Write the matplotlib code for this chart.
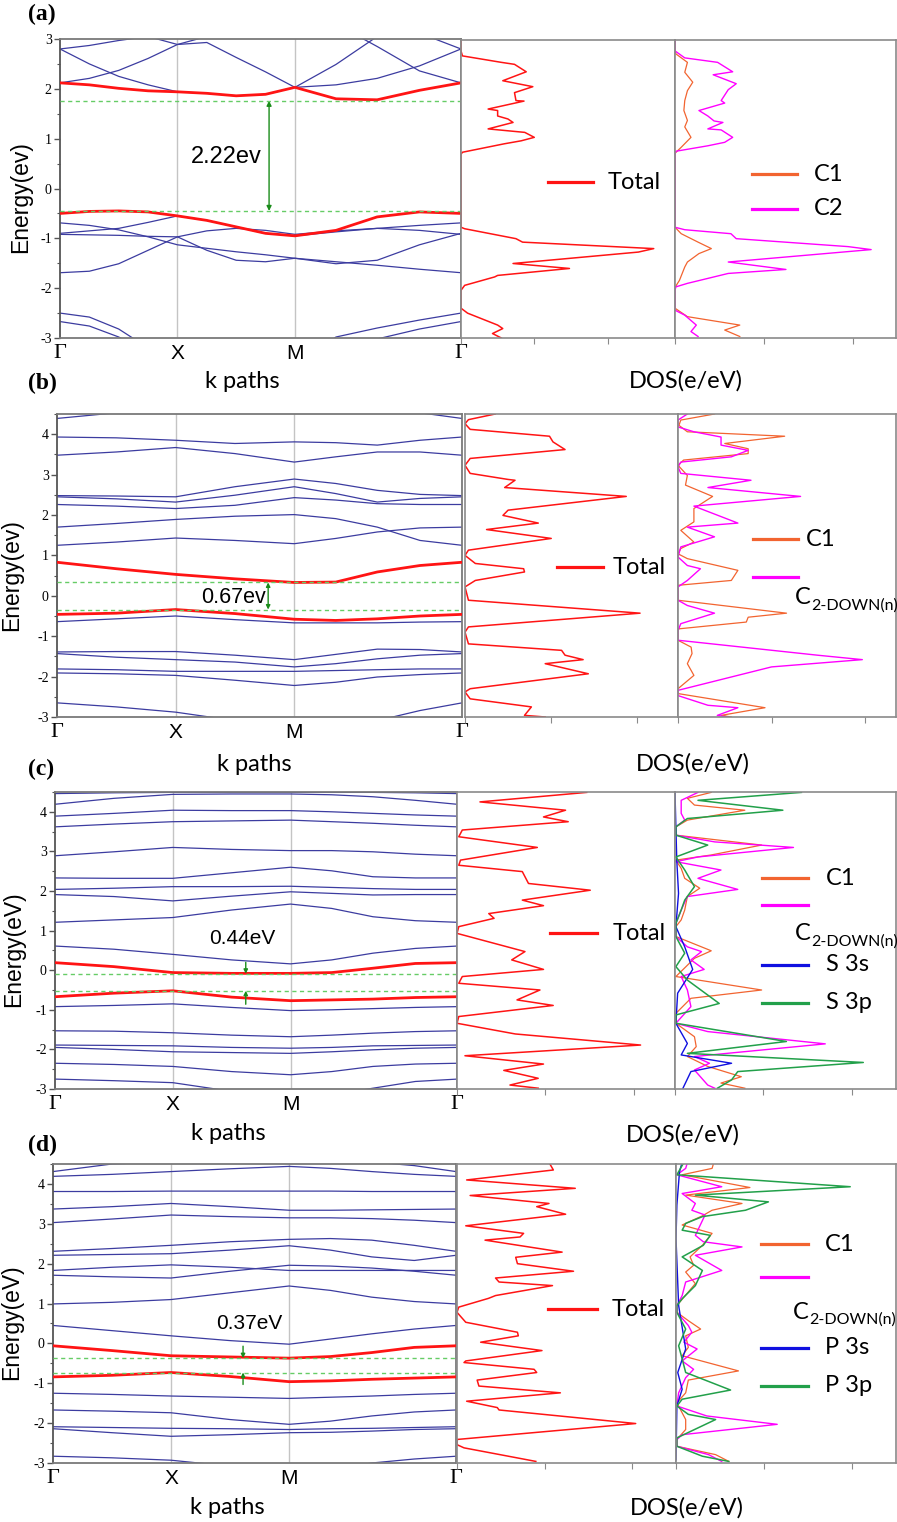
import numpy as np
import matplotlib
matplotlib.use("Agg")
import matplotlib.pyplot as plt

W, H = 897, 1522
SANS = ["Lato", "DejaVu Sans"]
ARIAL = ["Liberation Sans", "DejaVu Sans"]
SERIF = ["Liberation Serif", "DejaVu Serif"]
BLUE = "#3c3ca0"
RED = "#ff1414"
ORANGE = "#f26430"
MAGENTA = "#ff00ff"
SBLUE = "#1010e0"
GREEN = "#22a04a"

# high-symmetry path G-X-M-G (G-X = X-M = 1, M-G = sqrt 2)
k_sym = [0.0, 1.0, 2.0, 3.414]
k_sym_labels = ["Γ", "X", "M", "Γ"]

k_fine = [0, 0.25, 0.5, 0.75, 1.0, 1.25, 1.5, 1.75, 2.0, 2.35, 2.7, 3.06, 3.414]
k_coarse = [0, 0.5, 1.0, 1.5, 2.0, 2.35, 2.7, 3.06, 3.414]

# ---------------- panel (a) bands ----------------
a_red = [
    [2.12, 2.08, 2.01, 1.96, 1.94, 1.91, 1.86, 1.89, 2.03, 1.80, 1.78, 1.97, 2.12],
    [-0.50, -0.46, -0.45, -0.47, -0.55, -0.64, -0.77, -0.90, -0.95, -0.84, -0.57, -0.47, -0.50],
]
a_blue = [
    [2.80, 2.50, 2.25, 2.08, 1.94, 1.91, 1.86, 1.89, 2.03, 2.08, 2.21, 2.46, 2.80],
    [2.12, 2.21, 2.37, 2.61, 2.89, 3.05, 3.30, 3.50, 3.60, 3.30, 2.85, 2.36, 2.12],
    [2.80, 2.87, 2.97, 3.05, 2.89, 2.93, 2.63, 2.34, 2.03, 2.49, 3.05, 3.12, 2.80],
    [-0.69, -0.74, -0.83, -0.97, -1.13, -1.20, -1.27, -1.33, -1.40, -1.47, -1.54, -1.62, -1.69],
    [-0.90, -0.85, -0.80, -0.68, -0.55, -0.64, -0.77, -0.90, -0.95, -0.87, -0.80, -0.74, -0.69],
    [-0.92, -0.93, -0.94, -0.96, -0.97, -0.85, -0.80, -0.84, -0.92, -0.85, -0.80, -0.84, -0.92],
    [-1.69, -1.66, -1.51, -1.24, -0.97, -1.24, -1.44, -1.47, -1.40, -1.51, -1.44, -1.13, -0.90],
    [-2.50, -2.58, -2.82, -3.20, -3.50, -3.70, -3.80, -3.70, -3.50, -2.98, -2.80, -2.64, -2.50],
    [-2.67, -2.76, -2.98, -3.30, -3.60, -3.80, -3.90, -3.80, -3.60, -3.30, -3.02, -2.82, -2.67],
]

# ---------------- panel (b) bands ----------------
b_red = [
    [0.83, 0.67, 0.53, 0.42, 0.33, 0.34, 0.59, 0.75, 0.83],
    [-0.46, -0.43, -0.34, -0.44, -0.58, -0.61, -0.57, -0.50, -0.46],
]
b_blue = [
    [-0.64, -0.57, -0.50, -0.59, -0.67, -0.67, -0.67, -0.65, -0.64],
    [1.25, 1.33, 1.43, 1.37, 1.29, 1.42, 1.58, 1.68, 1.70],
    [1.70, 1.79, 1.89, 1.97, 2.01, 1.91, 1.70, 1.37, 1.25],
    [2.48, 2.47, 2.45, 2.70, 2.89, 2.78, 2.61, 2.51, 2.48],
    [2.45, 2.40, 2.32, 2.49, 2.70, 2.53, 2.32, 2.41, 2.45],
    [2.26, 2.22, 2.16, 2.24, 2.43, 2.37, 2.28, 2.26, 2.26],
    [3.48, 3.56, 3.67, 3.52, 3.31, 3.44, 3.56, 3.56, 3.48],
    [3.93, 3.91, 3.85, 3.77, 3.81, 3.79, 3.73, 3.85, 3.93],
    [4.39, 4.53, 4.59, 4.62, 4.62, 4.62, 4.59, 4.53, 4.39],
    [-1.39, -1.38, -1.38, -1.47, -1.58, -1.45, -1.32, -1.33, -1.39],
    [-1.43, -1.52, -1.58, -1.64, -1.76, -1.68, -1.56, -1.47, -1.43],
    [-1.81, -1.83, -1.87, -1.87, -1.87, -1.85, -1.83, -1.81, -1.81],
    [-1.91, -1.93, -1.97, -2.09, -2.22, -2.14, -2.01, -1.95, -1.91],
    [-2.65, -2.75, -2.88, -3.09, -3.25, -3.25, -3.09, -2.84, -2.65],
]

# ---------------- panel (c) bands ----------------
c_red = [
    [0.19, 0.09, -0.06, -0.08, -0.08, -0.06, 0.05, 0.17, 0.19],
    [-0.67, -0.58, -0.52, -0.68, -0.77, -0.75, -0.73, -0.69, -0.67],
]
c_blue = [
    [0.61, 0.53, 0.40, 0.26, 0.16, 0.26, 0.43, 0.55, 0.61],
    [-0.92, -0.89, -0.85, -0.94, -1.02, -1.00, -0.97, -0.94, -0.92],
    [-1.53, -1.54, -1.58, -1.64, -1.68, -1.64, -1.59, -1.55, -1.53],
    [-1.89, -1.90, -1.91, -1.95, -1.97, -1.95, -1.91, -1.90, -1.89],
    [-1.95, -2.00, -2.06, -2.08, -2.10, -2.06, -2.01, -1.97, -1.95],
    [-2.35, -2.38, -2.43, -2.56, -2.64, -2.56, -2.43, -2.37, -2.35],
    [-2.75, -2.79, -2.84, -3.06, -3.19, -3.15, -2.98, -2.81, -2.75],
    [1.21, 1.27, 1.33, 1.52, 1.67, 1.56, 1.35, 1.25, 1.21],
    [1.91, 1.86, 1.75, 1.87, 1.98, 1.94, 1.90, 1.91, 1.91],
    [2.04, 2.07, 2.11, 2.11, 2.12, 2.09, 2.06, 2.04, 2.04],
    [2.33, 2.32, 2.32, 2.46, 2.60, 2.51, 2.36, 2.33, 2.33],
    [2.89, 2.99, 3.10, 3.05, 3.02, 3.02, 2.99, 2.93, 2.89],
    [3.62, 3.69, 3.75, 3.77, 3.79, 3.75, 3.71, 3.66, 3.62],
    [3.89, 3.96, 4.04, 4.03, 4.03, 4.00, 3.96, 3.92, 3.89],
    [4.19, 4.34, 4.44, 4.45, 4.45, 4.43, 4.38, 4.29, 4.19],
    [4.46, 4.48, 4.49, 4.49, 4.49, 4.49, 4.49, 4.48, 4.46],
]

# ---------------- panel (d) bands ----------------
d_red = [
    [-0.06, -0.18, -0.31, -0.34, -0.37, -0.33, -0.23, -0.10, -0.06],
    [-0.84, -0.80, -0.73, -0.83, -0.96, -0.94, -0.90, -0.87, -0.84],
]
d_blue = [
    [0.45, 0.32, 0.19, 0.07, -0.02, 0.11, 0.24, 0.36, 0.45],
    [-1.25, -1.28, -1.32, -1.35, -1.38, -1.35, -1.32, -1.28, -1.25],
    [-1.67, -1.70, -1.74, -1.91, -2.03, -1.95, -1.82, -1.72, -1.67],
    [-2.09, -2.11, -2.13, -2.14, -2.16, -2.14, -2.13, -2.11, -2.09],
    [-2.14, -2.24, -2.33, -2.29, -2.24, -2.23, -2.20, -2.16, -2.14],
    [-2.83, -2.87, -2.93, -3.08, -3.21, -3.17, -3.00, -2.90, -2.83],
    [0.99, 1.03, 1.10, 1.27, 1.44, 1.33, 1.16, 1.05, 0.99],
    [1.83, 1.91, 1.97, 1.91, 1.83, 1.83, 1.83, 1.83, 1.83],
    [1.71, 1.67, 1.64, 1.81, 1.96, 1.94, 1.89, 1.81, 1.71],
    [2.31, 2.38, 2.46, 2.55, 2.61, 2.63, 2.59, 2.46, 2.31],
    [2.21, 2.23, 2.25, 2.34, 2.45, 2.34, 2.17, 2.08, 2.21],
    [3.03, 3.12, 3.22, 3.18, 3.15, 3.15, 3.13, 3.09, 3.03],
    [3.37, 3.43, 3.51, 3.43, 3.34, 3.34, 3.35, 3.36, 3.37],
    [3.81, 3.81, 3.82, 3.82, 3.82, 3.82, 3.81, 3.81, 3.81],
    [4.19, 4.24, 4.31, 4.38, 4.44, 4.39, 4.31, 4.24, 4.19],
    [4.31, 4.50, 4.56, 4.56, 4.56, 4.56, 4.55, 4.46, 4.31],
]

# band edges (dashed) and gap labels
a_edges, a_gap = [1.76, -0.45], "2.22ev"
b_edges, b_gap = [0.33, -0.34], "0.67ev"
c_edges, c_gap = [-0.09, -0.52], "0.44eV"
d_edges, d_gap = [-0.37, -0.73], "0.37eV"

# ---------------- DOS curves: (DOS value, energy) ----------------
a_total = [(0.00, 3.00), (0.00, 2.78), (0.02, 2.68), (0.55, 2.55), (0.73, 2.51), (0.89, 2.36),
           (0.57, 2.18), (0.98, 2.06), (0.73, 1.94), (0.75, 1.78), (0.86, 1.77), (0.37, 1.61),
           (0.50, 1.58), (0.50, 1.47), (0.64, 1.41), (0.71, 1.34), (0.37, 1.21), (0.87, 1.14),
           (1.00, 1.04), (0.82, 0.97), (0.59, 0.91), (0.02, 0.74), (0.00, 0.70), (0.00, -0.77),
           (0.05, -0.80), (0.75, -1.00), (0.84, -1.07), (2.63, -1.20), (2.42, -1.27), (0.71, -1.50),
           (1.48, -1.60), (0.50, -1.74), (0.46, -1.77), (0.05, -1.94), (0.00, -2.04), (0.00, -2.40),
           (0.09, -2.50), (0.50, -2.74), (0.57, -2.81), (0.43, -2.91), (0.55, -3.00)]
a_c1 = [(0.00, 3.00), (0.00, 2.78), (0.01, 2.72), (0.14, 2.55), (0.11, 2.35), (0.20, 2.15),
        (0.14, 1.98), (0.11, 1.78), (0.10, 1.58), (0.14, 1.38), (0.11, 1.25), (0.18, 1.04),
        (0.07, 0.84), (0.00, 0.72), (0.00, -0.77), (0.07, -0.90), (0.26, -1.07), (0.41, -1.20),
        (0.27, -1.30), (0.14, -1.47), (0.11, -1.57), (0.05, -1.84), (0.00, -1.98), (0.00, -2.40),
        (0.14, -2.57), (0.73, -2.74), (0.56, -2.84), (0.73, -2.97)]
a_c2 = [(0.00, 3.00), (0.00, 2.78), (0.11, 2.64), (0.48, 2.55), (0.65, 2.36), (0.43, 2.30),
        (0.69, 2.12), (0.60, 2.00), (0.52, 1.78), (0.56, 1.73), (0.27, 1.58), (0.37, 1.47),
        (0.44, 1.37), (0.54, 1.34), (0.37, 1.21), (0.52, 1.19), (0.65, 1.04), (0.56, 0.94),
        (0.37, 0.87), (0.01, 0.76), (0.00, 0.70), (0.00, -0.77), (0.11, -0.82), (0.63, -0.90),
        (0.69, -1.00), (1.95, -1.16), (2.21, -1.22), (0.60, -1.47), (1.25, -1.62), (0.60, -1.70),
        (0.14, -1.90), (0.01, -1.97), (0.00, -2.04), (0.00, -2.44), (0.11, -2.54), (0.24, -2.74),
        (0.18, -2.87), (0.26, -2.97)]

b_total = [(0.35, 4.50), (0.04, 4.36), (0.00, 4.26), (0.06, 4.12), (0.98, 3.95), (1.02, 3.81),
           (1.16, 3.62), (0.06, 3.40), (0.00, 3.23), (0.06, 3.03), (0.50, 2.88), (0.58, 2.86),
           (0.46, 2.68), (1.87, 2.46), (0.50, 2.12), (0.44, 1.99), (0.85, 1.80), (0.25, 1.64),
           (1.00, 1.42), (0.04, 1.13), (0.00, 1.00), (0.12, 0.80), (0.68, 0.67), (0.69, 0.59),
           (0.12, 0.38), (0.00, 0.22), (0.04, -0.11), (2.03, -0.43), (0.04, -0.77), (0.00, -0.90),
           (0.04, -1.19), (1.12, -1.35), (1.16, -1.47), (1.37, -1.58), (0.93, -1.68), (1.43, -1.93),
           (0.06, -2.30), (0.00, -2.38), (0.06, -2.55), (0.77, -2.75), (0.69, -2.96), (0.93, -3.00)]
b_c1 = [(0.39, 4.50), (0.03, 4.35), (0.01, 4.22), (0.10, 4.06), (1.14, 3.95), (0.50, 3.77),
        (0.75, 3.64), (0.75, 3.52), (0.06, 3.36), (0.00, 3.23), (0.10, 2.98), (0.08, 2.74),
        (0.37, 2.46), (0.17, 2.16), (0.17, 1.83), (0.03, 1.62), (0.17, 1.33), (0.03, 1.17),
        (0.00, 1.04), (0.10, 0.92), (0.64, 0.63), (0.57, 0.38), (0.00, 0.26), (0.00, -0.11),
        (1.16, -0.43), (0.75, -0.53), (0.73, -0.65), (0.00, -0.82), (0.00, -1.10), (0.14, -1.27),
        (0.15, -1.43), (0.10, -1.68), (0.17, -1.97), (0.00, -2.30), (0.00, -2.42), (0.93, -2.77),
        (0.46, -2.96), (0.57, -3.00)]
b_c2 = [(0.10, 4.50), (0.00, 4.35), (0.00, 4.18), (0.17, 4.06), (0.46, 3.93), (0.46, 3.73),
        (0.75, 3.60), (0.57, 3.44), (0.03, 3.31), (0.00, 3.19), (0.03, 3.03), (0.78, 2.86),
        (0.32, 2.68), (1.31, 2.46), (0.17, 2.22), (0.64, 1.80), (0.10, 1.70), (0.39, 1.46),
        (0.03, 1.21), (0.00, 0.96), (0.10, 0.75), (0.24, 0.67), (0.10, 0.38), (0.00, 0.22),
        (0.00, -0.11), (0.10, -0.24), (0.39, -0.43), (0.03, -0.69), (0.00, -0.86), (0.00, -1.10),
        (1.49, -1.47), (1.97, -1.58), (1.00, -1.76), (0.00, -2.34), (0.00, -2.47), (0.32, -2.71),
        (0.64, -2.77), (0.42, -2.96), (0.53, -3.00)]

c_total = [(1.47, 4.49), (0.26, 4.25), (1.23, 4.04), (0.98, 3.87), (1.26, 3.75), (0.06, 3.54),
           (0.02, 3.37), (0.91, 3.10), (0.04, 2.78), (0.02, 2.65), (0.74, 2.49), (0.81, 2.19),
           (1.51, 2.02), (0.74, 1.77), (0.98, 1.63), (0.36, 1.43), (0.42, 1.31), (0.02, 1.10),
           (0.00, 0.93), (0.77, 0.47), (0.62, 0.26), (0.98, 0.02), (0.06, -0.16), (0.02, -0.33),
           (0.94, -0.50), (0.68, -0.75), (1.09, -0.89), (0.02, -1.17), (0.00, -1.34), (0.66, -1.61),
           (2.08, -1.89), (0.09, -2.16), (0.98, -2.37), (0.53, -2.53), (0.92, -2.73), (0.60, -2.90),
           (0.92, -2.98)]
c_c1 = [(0.41, 4.49), (0.14, 4.34), (0.22, 4.17), (0.79, 4.04), (0.14, 3.79), (0.01, 3.62),
        (0.01, 3.41), (0.98, 3.16), (0.41, 2.91), (0.01, 2.78), (0.07, 2.57), (0.11, 2.32),
        (0.28, 2.07), (0.14, 1.86), (0.11, 1.52), (0.07, 1.27), (0.01, 1.10), (0.01, 0.85),
        (0.41, 0.49), (0.22, 0.30), (0.01, -0.16), (0.98, -0.50), (0.18, -0.71), (0.01, -1.09),
        (0.01, -1.34), (0.22, -1.68), (0.24, -1.93), (0.14, -2.18), (0.37, -2.43), (0.75, -2.69),
        (0.52, -2.85), (0.79, -2.98)]
c_c2 = [(0.26, 4.49), (0.07, 4.29), (0.07, 3.96), (0.11, 3.79), (0.01, 3.62), (0.01, 3.41),
        (0.45, 3.24), (1.34, 3.10), (0.26, 2.86), (0.01, 2.74), (0.52, 2.53), (0.26, 2.32),
        (0.71, 2.04), (0.14, 1.86), (0.07, 1.52), (0.01, 1.18), (0.01, 0.85), (0.14, 0.59),
        (0.30, 0.47), (0.18, 0.26), (0.33, 0.02), (0.07, -0.16), (0.14, -0.50), (0.18, -0.92),
        (0.01, -1.34), (0.37, -1.55), (1.70, -1.86), (0.22, -2.18), (0.39, -2.35), (0.22, -2.52),
        (0.37, -2.90), (0.45, -2.98)]
c_s3s = [(0.00, 4.49), (0.01, 3.62), (0.02, 2.78), (0.04, 1.94), (0.01, 1.10), (0.11, 0.59),
         (0.20, 0.02), (0.03, -0.58), (0.01, -1.34), (0.14, -1.85), (0.07, -2.14), (0.64, -2.35),
         (0.18, -2.56), (0.09, -2.98)]
c_s3p = [(1.43, 4.49), (0.26, 4.29), (1.22, 4.04), (0.14, 3.83), (0.01, 3.62), (0.01, 3.41),
         (0.37, 3.16), (0.01, 2.86), (0.11, 2.53), (0.22, 2.11), (0.11, 1.77), (0.07, 1.52),
         (0.01, 1.18), (0.01, 0.85), (0.11, 0.43), (0.01, 0.09), (0.14, -0.25), (0.50, -0.84),
         (0.01, -1.13), (0.01, -1.34), (1.26, -1.80), (0.14, -2.10), (2.13, -2.33), (0.71, -2.56),
         (0.64, -2.77), (0.48, -2.98)]

d_total = [(1.05, 4.54), (1.10, 4.35), (0.11, 4.10), (1.35, 3.89), (0.15, 3.71), (1.05, 3.51),
           (0.91, 3.43), (1.24, 3.24), (0.10, 2.95), (0.76, 2.76), (0.72, 2.67), (0.32, 2.59),
           (1.20, 2.29), (0.67, 2.16), (0.69, 2.00), (1.33, 1.81), (0.44, 1.64), (0.48, 1.54),
           (1.09, 1.45), (0.44, 1.20), (0.36, 1.13), (0.02, 0.91), (0.00, 0.78), (0.10, 0.53),
           (0.69, 0.28), (0.70, 0.19), (0.27, 0.03), (0.97, -0.18), (0.10, -0.44), (0.08, -0.48),
           (0.88, -0.65), (0.91, -0.73), (0.23, -0.92), (0.25, -1.07), (1.18, -1.24), (0.11, -1.45),
           (0.46, -1.61), (0.48, -1.67), (2.04, -2.01), (0.00, -2.41), (0.00, -2.54), (0.08, -2.62),
           (0.90, -2.96)]
d_c1 = [(0.43, 4.54), (0.41, 4.39), (0.07, 4.23), (0.84, 3.91), (0.11, 3.72), (0.75, 3.51),
        (0.41, 3.34), (0.30, 3.20), (0.07, 2.97), (0.41, 2.76), (0.30, 2.46), (0.16, 2.17),
        (0.20, 1.96), (0.11, 1.79), (0.22, 1.50), (0.14, 1.29), (0.01, 0.95), (0.01, 0.78),
        (0.14, 0.57), (0.28, 0.36), (0.11, 0.19), (0.14, -0.10), (0.07, -0.31), (0.71, -0.69),
        (0.14, -0.92), (0.11, -1.24), (0.01, -1.49), (0.11, -1.91), (0.11, -2.16), (0.01, -2.41),
        (0.01, -2.58), (0.45, -2.79), (0.60, -2.96)]
d_c2 = [(0.13, 4.54), (0.11, 4.39), (0.01, 4.23), (0.52, 3.93), (0.07, 3.76), (0.22, 3.51),
        (0.18, 3.34), (0.33, 3.22), (0.22, 2.71), (0.31, 2.55), (0.75, 2.42), (0.22, 2.21),
        (0.52, 1.83), (0.11, 1.54), (0.07, 1.20), (0.01, 0.95), (0.01, 0.78), (0.14, 0.45),
        (0.18, 0.28), (0.09, 0.03), (0.24, -0.14), (0.07, -0.44), (0.20, -0.65), (0.11, -0.86),
        (0.03, -1.24), (0.01, -1.57), (0.35, -1.82), (1.15, -2.03), (0.07, -2.29), (0.01, -2.41),
        (0.01, -2.58), (0.37, -2.79), (0.52, -2.96)]
d_p3s = [(0.07, 4.54), (0.04, 4.31), (0.01, 3.47), (0.00, 2.63), (0.03, 0.95), (0.11, -0.14),
         (0.02, -0.73), (0.07, -1.15), (0.01, -1.57), (0.00, -2.92)]
d_p3p = [(0.09, 4.54), (0.01, 4.23), (1.98, 3.93), (0.22, 3.72), (1.05, 3.55), (0.79, 3.34),
         (0.30, 3.18), (0.11, 3.01), (0.07, 2.84), (0.39, 2.71), (0.31, 2.46), (0.07, 2.17),
         (0.30, 1.83), (0.22, 1.45), (0.07, 1.12), (0.01, 0.95), (0.01, 0.78), (0.11, 0.36),
         (0.03, -0.06), (0.07, -0.39), (0.11, -0.73), (0.62, -1.17), (0.07, -1.40), (0.01, -1.57),
         (0.14, -1.78), (0.45, -1.91), (0.01, -2.37), (0.01, -2.58), (0.30, -2.83), (0.60, -2.96)]


def px_axes(fig, left, top, right, bottom):
    # axes placed by pixel box of the 897x1522 figure
    return fig.add_axes([left / W, 1 - bottom / H, (right - left) / W, (bottom - top) / H])


def fig_text(fig, x, y, s, **kw):
    fig.text(x / W, 1 - y / H, s, **kw)


def draw_bands(ax, k, blue, red, ylim, edges):
    for kk in k_sym[1:-1]:
        ax.axvline(kk, color="#c4c4c4", lw=1.0, zorder=0)
    for band in blue:
        ax.plot(k, band, color=BLUE, lw=0.9, zorder=2)
    for band in red:
        ax.plot(k, band, color=RED, lw=2.0, zorder=3)
    for e in edges:
        ax.axhline(e, color="#66cc66", lw=1.0, ls=(0, (3, 2.5)), zorder=4)
    ax.set_xlim(k_sym[0], k_sym[-1])
    ax.set_ylim(*ylim)
    ax.set_xticks(k_sym)
    ax.set_xticklabels(k_sym_labels)
    for lab in ax.get_xticklabels():
        if lab.get_text() == "Γ":
            lab.set_fontfamily(SERIF)
            lab.set_fontsize(16)
        else:
            lab.set_fontfamily(ARIAL)
            lab.set_fontsize(15)
    ax.tick_params(axis="x", length=0, pad=4)
    major = np.arange(-3, int(ylim[1]) + 1)
    ax.set_yticks(major)
    ax.set_yticklabels([f"{v:d}" for v in major], fontfamily=SERIF, fontsize=10)
    ax.set_yticks(np.arange(-2.5, ylim[1] + 0.01, 1.0), minor=True)
    ax.tick_params(axis="y", which="major", direction="out", length=4, width=1,
                   color="#555555", pad=2)
    ax.tick_params(axis="y", which="minor", direction="out", length=2.5, width=0.8,
                   color="#555555")
    for side, sp in ax.spines.items():
        sp.set_color("#555555" if side == "left" else "#7a7a7a")
        sp.set_linewidth(1.3)


def draw_dos(ax, curves, xmax, ylim):
    for pts, color, lw in curves:
        ax.plot([p[0] for p in pts], [p[1] for p in pts], color=color, lw=lw)
    ax.set_xlim(0, xmax)
    ax.set_ylim(*ylim)
    ax.set_xticks([0, 1, 2])
    ax.set_xticklabels([])
    ax.set_yticks([])
    ax.tick_params(axis="x", direction="out", length=4, width=0.8, color="#8a8a8a")
    for sp in ax.spines.values():
        sp.set_color("#8a8a8a")
        sp.set_linewidth(1.2)


def legend_entry(ax, x0, x1, y, color, label, tx):
    ax.plot([x0, x1], [y, y], transform=ax.transAxes, color=color, lw=2.3, clip_on=False)
    if label:
        ax.text(tx, y, label, transform=ax.transAxes, va="center", ha="left",
                fontsize=17, fontfamily=SANS)


def c2_label(ax, x, y):
    t = ax.text(x, y, "C", transform=ax.transAxes, va="center", ha="left",
                fontsize=17, fontfamily=SANS)
    ax.annotate("2-DOWN(n)", xy=(1.0, 0.12), xycoords=t, va="center", ha="left",
                fontsize=11.5, fontfamily=SANS)


fig = plt.figure(figsize=(W / 100, H / 100), dpi=100)

# ---------------- panel (a) ----------------
ax = px_axes(fig, 60, 39, 461, 338)
draw_bands(ax, k_fine, a_blue, a_red, (-3, 3), a_edges)
ax.annotate("", xy=(1.78, a_edges[0]), xytext=(1.78, a_edges[1]),
            arrowprops=dict(arrowstyle="<|-|>", color="#1a8c1a", lw=1.0,
                            mutation_scale=7, shrinkA=0, shrinkB=0))
ax.text(1.42, 0.63, a_gap, ha="center", va="center", fontsize=17, fontfamily=ARIAL)
ax_t = px_axes(fig, 461, 40, 675, 338)
draw_dos(ax_t, [(a_total, RED, 1.1)], 2.92, (-3, 3))
legend_entry(ax_t, 0.407, 0.617, 0.523, RED, "Total", 0.687)
ax_p = px_axes(fig, 675, 40, 896, 338)
draw_dos(ax_p, [(a_c1, ORANGE, 0.9), (a_c2, MAGENTA, 1.0)], 2.49, (-3, 3))
legend_entry(ax_p, 0.348, 0.552, 0.550, ORANGE, "C1", 0.629)
legend_entry(ax_p, 0.348, 0.552, 0.433, MAGENTA, "C2", 0.629)

# ---------------- panel (b) ----------------
ax = px_axes(fig, 57, 414, 462, 717)
draw_bands(ax, k_coarse, b_blue, b_red, (-3, 4.5), b_edges)
ax.annotate("", xy=(1.78, b_edges[0]), xytext=(1.78, b_edges[1]),
            arrowprops=dict(arrowstyle="<|-|>", color="#1a8c1a", lw=1.0,
                            mutation_scale=6, shrinkA=0, shrinkB=0))
ax.text(1.49, -0.04, b_gap, ha="center", va="center", fontsize=15.5, fontfamily=ARIAL)
ax_t = px_axes(fig, 465, 414, 678, 717)
draw_dos(ax_t, [(b_total, RED, 1.1)], 2.47, (-3, 4.5))
legend_entry(ax_t, 0.432, 0.648, 0.495, RED, "Total", 0.695)
ax_p = px_axes(fig, 678, 414, 896, 717)
draw_dos(ax_p, [(b_c1, ORANGE, 0.9), (b_c2, MAGENTA, 1.0)], 2.33, (-3, 4.5))
legend_entry(ax_p, 0.344, 0.550, 0.587, ORANGE, "C1", 0.587)
legend_entry(ax_p, 0.344, 0.550, 0.462, MAGENTA, None, 0)
c2_label(ax_p, 0.537, 0.393)

# ---------------- panel (c) ----------------
ax = px_axes(fig, 55, 792, 457, 1089)
draw_bands(ax, k_coarse, c_blue, c_red, (-3, 4.5), c_edges)
ax.annotate("", xy=(1.62, c_edges[0]), xytext=(1.62, 0.2),
            arrowprops=dict(arrowstyle="-|>", color="#1a8c1a", lw=1.0,
                            mutation_scale=6, shrinkA=0, shrinkB=0))
ax.annotate("", xy=(1.62, c_edges[1]), xytext=(1.62, -0.86),
            arrowprops=dict(arrowstyle="-|>", color="#1a8c1a", lw=1.0,
                            mutation_scale=6, shrinkA=0, shrinkB=0))
ax.text(1.59, 0.79, c_gap, ha="center", va="center", fontsize=15, fontfamily=ARIAL)
ax_t = px_axes(fig, 457, 792, 675, 1089)
draw_dos(ax_t, [(c_total, RED, 1.1)], 2.47, (-3, 4.5))
legend_entry(ax_t, 0.427, 0.642, 0.525, RED, "Total", 0.716)
ax_p = px_axes(fig, 675, 792, 896, 1089)
draw_dos(ax_p, [(c_c1, ORANGE, 0.9), (c_c2, MAGENTA, 1.0), (c_s3s, SBLUE, 1.0),
                (c_s3p, GREEN, 1.1)], 2.5, (-3, 4.5))
legend_entry(ax_p, 0.394, 0.602, 0.710, ORANGE, "C1", 0.683)
legend_entry(ax_p, 0.394, 0.602, 0.620, MAGENTA, None, 0)
c2_label(ax_p, 0.543, 0.525)
legend_entry(ax_p, 0.394, 0.602, 0.418, SBLUE, "S 3s", 0.683)
legend_entry(ax_p, 0.394, 0.602, 0.290, GREEN, "S 3p", 0.683)

# ---------------- panel (d) ----------------
ax = px_axes(fig, 53, 1164, 456, 1463)
draw_bands(ax, k_coarse, d_blue, d_red, (-3, 4.5), d_edges)
ax.annotate("", xy=(1.61, d_edges[0]), xytext=(1.61, -0.07),
            arrowprops=dict(arrowstyle="-|>", color="#1a8c1a", lw=1.0,
                            mutation_scale=6, shrinkA=0, shrinkB=0))
ax.annotate("", xy=(1.61, d_edges[1]), xytext=(1.61, -1.03),
            arrowprops=dict(arrowstyle="-|>", color="#1a8c1a", lw=1.0,
                            mutation_scale=6, shrinkA=0, shrinkB=0))
ax.text(1.66, 0.49, d_gap, ha="center", va="center", fontsize=15, fontfamily=ARIAL)
ax_t = px_axes(fig, 457, 1164, 676, 1463)
draw_dos(ax_t, [(d_total, RED, 1.1)], 2.5, (-3, 4.5))
legend_entry(ax_t, 0.416, 0.639, 0.515, RED, "Total", 0.708)
ax_p = px_axes(fig, 676, 1164, 896, 1463)
draw_dos(ax_p, [(d_c1, ORANGE, 0.9), (d_c2, MAGENTA, 1.0), (d_p3s, SBLUE, 1.0),
                (d_p3p, GREEN, 1.1)], 2.5, (-3, 4.5))
legend_entry(ax_p, 0.386, 0.600, 0.732, ORANGE, "C1", 0.677)
legend_entry(ax_p, 0.386, 0.600, 0.622, MAGENTA, None, 0)
c2_label(ax_p, 0.532, 0.505)
legend_entry(ax_p, 0.386, 0.600, 0.385, SBLUE, "P 3s", 0.677)
legend_entry(ax_p, 0.386, 0.600, 0.258, GREEN, "P 3p", 0.677)

# ---------------- shared labels ----------------
for letter, y in [("(a)", 14), ("(b)", 383), ("(c)", 769), ("(d)", 1145)]:
    fig_text(fig, 28, y, letter, fontsize=17, fontweight="bold", fontfamily=SERIF,
             ha="left", va="center")
for x, y, s in [(21, 197, "Energy(ev)"), (12, 575, "Energy(ev)"),
                (14, 949, "Energy(eV)"), (12, 1322, "Energy(eV)")]:
    fig_text(fig, x, y, s, fontsize=16.5, fontfamily=ARIAL, rotation=90,
             ha="center", va="center")
for x, y in [(242, 382), (254, 764), (228, 1133), (227, 1507)]:
    fig_text(fig, x, y, "k paths", fontsize=17, fontfamily=SANS, ha="center", va="center")
for x, y in [(686, 381), (693, 764), (683, 1135), (687, 1508)]:
    fig_text(fig, x, y, "DOS(e/eV)", fontsize=17, fontfamily=SANS, ha="center", va="center")

fig.savefig("out.png", dpi=100)
